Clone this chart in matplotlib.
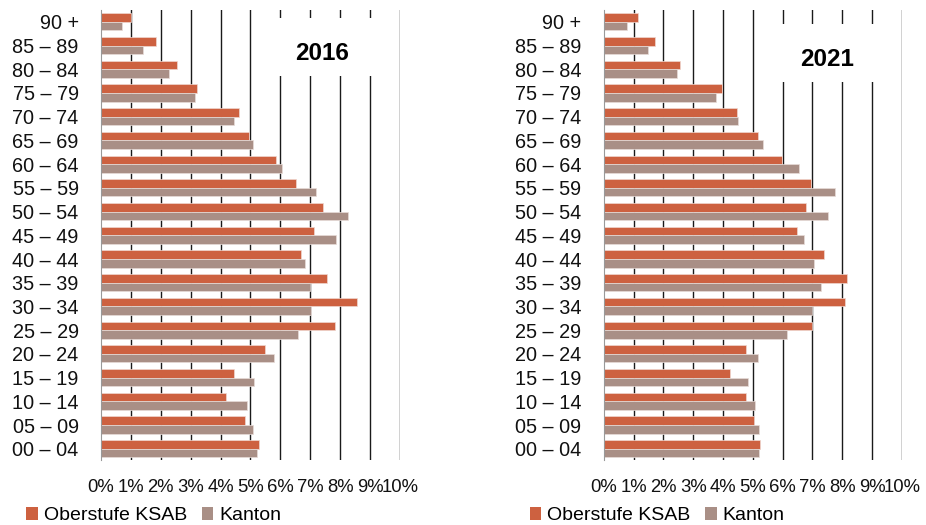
import numpy as np
import matplotlib
matplotlib.use("Agg")
import matplotlib.pyplot as plt
from matplotlib.patches import Patch, Rectangle

plt.rcParams['font.family'] = ['Liberation Sans', 'DejaVu Sans']

# age groups, bottom to top
ages = ["00 – 04", "05 – 09", "10 – 14", "15 – 19", "20 – 24", "25 – 29",
        "30 – 34", "35 – 39", "40 – 44", "45 – 49", "50 – 54", "55 – 59",
        "60 – 64", "65 – 69", "70 – 74", "75 – 79", "80 – 84", "85 – 89",
        "90 +"]

# 2016, shares in %
ksab_2016 = [5.29, 4.83, 4.18, 4.45, 5.47, 7.83, 8.57, 7.57, 6.68, 7.14,
             7.42, 6.53, 5.85, 4.96, 4.62, 3.20, 2.55, 1.85, 1.01]
kanton_2016 = [5.23, 5.07, 4.90, 5.11, 5.80, 6.60, 7.04, 6.99, 6.83, 7.85,
               8.26, 7.20, 6.06, 5.09, 4.45, 3.13, 2.29, 1.41, 0.69]

# 2021, shares in %
ksab_2021 = [5.23, 5.04, 4.77, 4.25, 4.77, 6.99, 8.10, 8.17, 7.39, 6.47,
             6.79, 6.96, 5.98, 5.16, 4.46, 3.97, 2.57, 1.72, 1.14]
kanton_2021 = [5.20, 5.22, 5.06, 4.83, 5.17, 6.16, 6.99, 7.28, 7.04, 6.72,
               7.52, 7.77, 6.55, 5.35, 4.51, 3.78, 2.45, 1.50, 0.79]

c_ksab = "#CD6140"
c_kanton = "#A98F86"

fig = plt.figure(figsize=(9.26, 5.25), dpi=100)

# rect, series, title, (text x, text y, box bottom, box top)
panels = [
    ([0.109, 0.124, 0.323, 0.857], ksab_2016, kanton_2016, "2016",
     (7.4, 16.66, 15.72, 18.17)),
    ([0.652, 0.124, 0.322, 0.857], ksab_2021, kanton_2021, "2021",
     (7.5, 16.42, 15.47, 17.92)),
]

y = np.arange(len(ages))
h = 0.36

for rect, ksab, kanton, title, (tx, ty, b0, b1) in panels:
    ax = fig.add_axes(rect)
    ax.barh(y + h / 2, ksab, height=h, color=c_ksab, edgecolor="#F0D8D0",
            linewidth=0.5, zorder=3)
    ax.barh(y - h / 2, kanton, height=h, color=c_kanton, edgecolor="#E8DCD8",
            linewidth=0.5, zorder=3)
    ax.set_xlim(0, 10)
    ax.set_ylim(-0.47, 18.5)
    ax.set_xticks(range(11))
    ax.set_xticklabels([f"{k}%" for k in range(11)])
    ax.set_yticks(y)
    ax.set_yticklabels(ages)
    ax.tick_params(axis="both", length=0, colors="#111111")
    ax.tick_params(axis="x", pad=14, labelsize=13.3)
    ax.tick_params(axis="y", pad=16, labelsize=14.3)
    for k in range(1, 11):
        ax.axvline(k, color="#1a1a1a", linewidth=1.0, zorder=1)
    for s in ["top", "right", "bottom"]:
        ax.spines[s].set_visible(False)
    ax.spines["left"].set_color("#999999")
    ax.spines["left"].set_zorder(4)

    # white title box covering the grid
    ax.add_patch(Rectangle((5.3, b0), 4.4, b1 - b0, facecolor="white",
                           edgecolor="none", zorder=2))
    ax.text(tx, ty, title, fontsize=17.5, fontweight="bold", ha="center",
            va="center", zorder=5)

    handles = [Patch(facecolor=c_ksab, label="Oberstufe KSAB"),
               Patch(facecolor=c_kanton, label="Kanton")]
    ax.legend(handles=handles, loc="upper left",
              bbox_to_anchor=(-0.275, -0.088), ncol=2, frameon=False,
              fontsize=14, handlelength=0.6, handleheight=0.6,
              handletextpad=0.3, columnspacing=0.75, borderaxespad=0)

fig.savefig("out.png", dpi=100)
